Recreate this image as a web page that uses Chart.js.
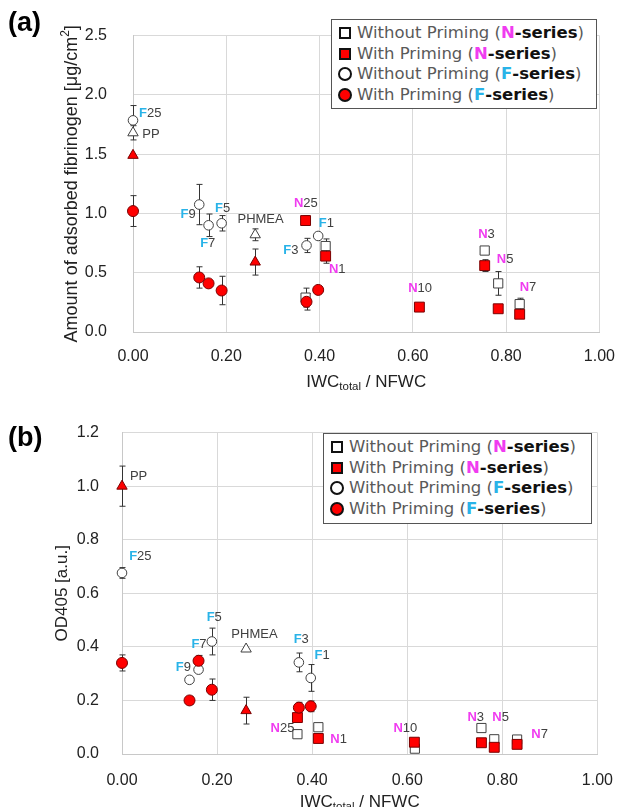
<!DOCTYPE html>
<html>
<head>
<meta charset="utf-8">
<script src="https://cdn.jsdelivr.net/npm/chart.js@4.4.0/dist/chart.umd.min.js"></script>
<style>
  body { margin: 0; background: #fff; }
  #wrap { position: relative; width: 630px; height: 807px; overflow: hidden; }
  canvas { position: absolute; left: 0; }
  .tag { position: absolute; left: 8px; font: bold 27px "Liberation Sans", Arial, sans-serif; color: #000; line-height: 30px; }
  .legend { position: absolute; border: 1.5px solid #555; background: #fff; box-sizing: border-box;
            font: 16.5px "DejaVu Sans", sans-serif; color: #595959; padding: 3px 0 3px 6px; }
  .legend .row { height: 20.6px; line-height: 20.6px; white-space: nowrap; display: flex; align-items: center; }
  .mk { display: inline-block; box-sizing: border-box; border: 2px solid #111; width: 12px; height: 12px; margin: 0 6px 0 1px; }
  .mk.fill { background: #ff0000; }
  .mk.circ { border-radius: 50%; width: 14px; height: 14px; margin: 0 5px 0 0; }
  .n { color: #f03cf0; font-weight: bold; }
  .f { color: #29b3e8; font-weight: bold; }
  .s { color: #111; font-weight: bold; }
</style>
</head>
<body>
<div id="wrap">
  <canvas id="chartA" width="630" height="400" style="top:0"></canvas>
  <canvas id="chartB" width="630" height="407" style="top:400px"></canvas>
  <div class="tag" style="top:7px">(a)</div>
  <div class="tag" style="top:422px">(b)</div>
  <div class="legend" style="left:331px; top:19px; width:266px; height:90px">
    <div class="row"><span class="mk"></span>Without Priming (<span class="n">N</span><span class="s">-series</span>)</div>
    <div class="row"><span class="mk fill"></span>With Priming (<span class="n">N</span><span class="s">-series</span>)</div>
    <div class="row"><span class="mk circ"></span>Without Priming (<span class="f">F</span><span class="s">-series</span>)</div>
    <div class="row"><span class="mk circ fill"></span>With Priming (<span class="f">F</span><span class="s">-series</span>)</div>
  </div>
  <div class="legend" style="left:323px; top:433px; width:269px; height:91px">
    <div class="row"><span class="mk"></span>Without Priming (<span class="n">N</span><span class="s">-series</span>)</div>
    <div class="row"><span class="mk fill"></span>With Priming (<span class="n">N</span><span class="s">-series</span>)</div>
    <div class="row"><span class="mk circ"></span>Without Priming (<span class="f">F</span><span class="s">-series</span>)</div>
    <div class="row"><span class="mk circ fill"></span>With Priming (<span class="f">F</span><span class="s">-series</span>)</div>
  </div>
</div>
<script>
// ---- panel (a): adsorbed fibrinogen ----
const aNWithoutX = [0.370, 0.413, 0.754, 0.783, 0.829];          // N25 N1 N3 N5 N7
const aNWithoutY = [0.29, 0.725, 0.687, 0.41, 0.235];
const aNWithoutErr = [0.08, 0.06, 0.02, 0.10, 0.05];
const aNWithX = [0.370, 0.413, 0.614, 0.754, 0.783, 0.829];      // N25 N1 N10 N3 N5 N7
const aNWithY = [0.94, 0.64, 0.21, 0.56, 0.196, 0.15];
const aNWithErr = [0.04, 0.06, 0, 0.05, 0, 0];
const aFWithoutX = [0.0, 0.142, 0.162, 0.190, 0.372, 0.397];     // F25 F9 F7 F5 F3 F1
const aFWithoutY = [1.785, 1.075, 0.90, 0.917, 0.73, 0.81];
const aFWithoutErr = [0.125, 0.17, 0.095, 0.065, 0.06, 0];
const aFWithX = [0.0, 0.142, 0.162, 0.190, 0.372, 0.397];
const aFWithY = [1.02, 0.46, 0.41, 0.35, 0.255, 0.355];
const aFWithErr = [0.13, 0.09, 0, 0.12, 0.07, 0];
const aRefWithoutX = [0.0, 0.262];                                // PP PHMEA
const aRefWithoutY = [1.68, 0.82];
const aRefWithoutErr = [0.06, 0.05];
const aRefWithX = [0.0, 0.262];
const aRefWithY = [1.49, 0.59];
const aRefWithErr = [0, 0.11];
const aLabelText = ['F25', 'PP', 'F9', 'F7', 'F5', 'PHMEA', 'N25', 'F1', 'F3', 'N1', 'N10', 'N3', 'N5', 'N7'];
const aLabelX = [0.013, 0.02, 0.102, 0.144, 0.176, 0.224, 0.345, 0.3985, 0.322, 0.42, 0.59, 0.74, 0.78, 0.829];
const aLabelY = [1.843, 1.664, 0.99, 0.746, 1.044, 0.953, 1.088, 0.915, 0.692, 0.525, 0.37, 0.824, 0.615, 0.377];

// ---- panel (b): OD405 ----
const bNWithoutX = [0.369, 0.413, 0.616, 0.756, 0.783, 0.831];   // N25 N1 N10 N3 N5 N7
const bNWithoutY = [0.074, 0.10, 0.02, 0.097, 0.055, 0.054];
const bNWithoutErr = [0, 0, 0, 0, 0, 0];
const bNWithX = [0.369, 0.413, 0.615, 0.756, 0.783, 0.831];
const bNWithY = [0.136, 0.058, 0.044, 0.042, 0.025, 0.036];
const bNWithErr = [0, 0, 0, 0, 0, 0];
const bFWithoutX = [0.0, 0.142, 0.161, 0.189, 0.372, 0.397];     // F25 F9 F7 F5 F3 F1
const bFWithoutY = [0.676, 0.277, 0.315, 0.42, 0.342, 0.284];
const bFWithoutErr = [0.02, 0, 0, 0.05, 0.035, 0.05];
const bFWithX = [0.0, 0.142, 0.161, 0.189, 0.372, 0.397];
const bFWithY = [0.34, 0.20, 0.348, 0.24, 0.173, 0.178];
const bFWithErr = [0.03, 0.015, 0.02, 0.04, 0.02, 0.02];
const bRefWithoutX = [0.261];                                     // PHMEA
const bRefWithoutY = [0.392];
const bRefWithoutErr = [0];
const bRefWithX = [0.0, 0.261];                                   // PP PHMEA
const bRefWithY = [1.0, 0.162];
const bRefWithErr = [0.075, 0.05];
const bLabelText = ['PP', 'F25', 'F5', 'PHMEA', 'F7', 'F9', 'F3', 'F1', 'N25', 'N1', 'N10', 'N3', 'N5', 'N7'];
const bLabelX = [0.0167, 0.015, 0.178, 0.230, 0.146, 0.113, 0.361, 0.405, 0.3125, 0.438, 0.571, 0.7265, 0.779, 0.861];
const bLabelY = [1.036, 0.738, 0.511, 0.446, 0.409, 0.3235, 0.429, 0.368, 0.0944, 0.054, 0.094, 0.137, 0.137, 0.072];

const xTicks = [0, 0.2, 0.4, 0.6, 0.8, 1.0];

const FONT = '"Liberation Sans", Arial, sans-serif';
const GRAY = '#404040';

function pts(xs, ys) {
    return xs.map((x, i) => ({ x: x, y: ys[i] }));
}

// vertical error bars, drawn under the markers
const errorBars = {
    id: 'errorBars',
    beforeDatasetsDraw(chart) {
        const ctx = chart.ctx;
        const ys = chart.scales.y;
        ctx.save();
        ctx.strokeStyle = '#333';
        ctx.lineWidth = 1;
        chart.data.datasets.forEach((ds, di) => {
            if (!ds.errs) return;
            const meta = chart.getDatasetMeta(di);
            meta.data.forEach((el, i) => {
                const e = ds.errs[i];
                if (!e) return;
                const v = ds.data[i].y;
                const x = Math.round(el.x) + 0.5;
                const top = ys.getPixelForValue(v + e);
                const bot = ys.getPixelForValue(v - e);
                ctx.beginPath();
                ctx.moveTo(x, top); ctx.lineTo(x, bot);
                ctx.moveTo(x - 3, top); ctx.lineTo(x + 3, top);
                ctx.moveTo(x - 3, bot); ctx.lineTo(x + 3, bot);
                ctx.stroke();
            });
        });
        ctx.restore();
    }
};

// sample names next to points
const pointNames = {
    id: 'pointNames',
    afterDatasetsDraw(chart, args, opts) {
        const ctx = chart.ctx;
        const xs = chart.scales.x, ys = chart.scales.y;
        ctx.save();
        ctx.font = '13px ' + FONT;
        ctx.textBaseline = 'middle';
        ctx.textAlign = 'left';
        opts.text.forEach((t, i) => {
            let px = xs.getPixelForValue(opts.x[i]);
            const py = ys.getPixelForValue(opts.y[i]);
            if (/^[NF]\d/.test(t)) {
                ctx.fillStyle = t[0] === 'N' ? '#f03cf0' : '#29b3e8';
                ctx.font = 'bold 13px ' + FONT;
                ctx.fillText(t[0], px, py);
                px += ctx.measureText(t[0]).width;
                ctx.font = '13px ' + FONT;
                ctx.fillStyle = GRAY;
                ctx.fillText(t.slice(1), px, py);
            } else {
                ctx.fillStyle = GRAY;
                ctx.fillText(t, px, py);
            }
        });
        ctx.restore();
    }
};

// axis titles with sub/superscripts
function drawParts(ctx, parts, cx, cy, rotate) {
    ctx.save();
    ctx.translate(cx, cy);
    if (rotate) ctx.rotate(-Math.PI / 2);
    ctx.textBaseline = 'middle';
    ctx.textAlign = 'left';
    ctx.fillStyle = '#222';
    let total = 0;
    parts.forEach(p => { ctx.font = p.s + 'px ' + FONT; total += ctx.measureText(p.t).width; });
    let x = -total / 2;
    parts.forEach(p => {
        ctx.font = p.s + 'px ' + FONT;
        ctx.fillText(p.t, x, p.dy);
        x += ctx.measureText(p.t).width;
    });
    ctx.restore();
}

const axisTitles = {
    id: 'axisTitles',
    afterDraw(chart, args, opts) {
        const a = chart.chartArea;
        drawParts(chart.ctx, opts.xParts, (a.left + a.right) / 2, opts.xTitleY, false);
        drawParts(chart.ctx, opts.yParts, opts.yTitleX, (a.top + a.bottom) / 2, true);
    }
};

function makeChart(id, p) {
    const datasets = [
        { label: 'With Priming (F-series)', data: pts(p.fWithX, p.fWithY), errs: p.fWithErr,
          pointStyle: 'circle', pointRadius: 5.5, backgroundColor: '#ff0000', borderColor: '#7a0000', borderWidth: 1 },
        { label: 'With Priming (N-series)', data: pts(p.nWithX, p.nWithY), errs: p.nWithErr,
          pointStyle: 'rect', pointRadius: 7, backgroundColor: '#ff0000', borderColor: '#7a0000', borderWidth: 1 },
        { label: 'With Priming (ref)', data: pts(p.refWithX, p.refWithY), errs: p.refWithErr,
          pointStyle: 'triangle', pointRadius: 6, backgroundColor: '#ff0000', borderColor: '#7a0000', borderWidth: 1 },
        { label: 'Without Priming (F-series)', data: pts(p.fWithoutX, p.fWithoutY), errs: p.fWithoutErr,
          pointStyle: 'circle', pointRadius: 4.8, backgroundColor: '#fff', borderColor: GRAY, borderWidth: 1 },
        { label: 'Without Priming (N-series)', data: pts(p.nWithoutX, p.nWithoutY), errs: p.nWithoutErr,
          pointStyle: 'rect', pointRadius: 6.5, backgroundColor: '#fff', borderColor: GRAY, borderWidth: 1 },
        { label: 'Without Priming (ref)', data: pts(p.refWithoutX, p.refWithoutY), errs: p.refWithoutErr,
          pointStyle: 'triangle', pointRadius: 6, backgroundColor: '#fff', borderColor: GRAY, borderWidth: 1 },
    ];
    datasets.forEach(ds => { ds.clip = false; });
    return new Chart(document.getElementById(id), {
        type: 'scatter',
        data: { datasets: datasets },
        options: {
            responsive: false,
            animation: false,
            devicePixelRatio: 1,
            layout: { padding: { left: 0, right: p.padRight, top: p.padTop, bottom: 0 } },
            plugins: {
                legend: { display: false },
                tooltip: { enabled: false },
                pointNames: { text: p.labelText, x: p.labelX, y: p.labelY },
                axisTitles: { xParts: p.xParts, yParts: p.yParts, xTitleY: p.xTitleY, yTitleX: p.yTitleX },
            },
            scales: {
                x: {
                    type: 'linear', min: 0, max: 1,
                    afterBuildTicks: s => { s.ticks = xTicks.map(v => ({ value: v })); },
                    afterFit: s => { s.height = p.xHeight; },
                    ticks: { font: { size: 16, family: FONT }, color: '#222', padding: p.xPad,
                             callback: v => v.toFixed(2) },
                    grid: { color: '#d9d9d9', drawTicks: false },
                    border: { color: '#c8c8c8' },
                },
                y: {
                    type: 'linear', min: 0, max: p.yMax,
                    afterBuildTicks: s => { s.ticks = p.yTicks.map(v => ({ value: v })); },
                    afterFit: s => { s.width = p.yWidth; },
                    ticks: { font: { size: 16, family: FONT }, color: '#222', padding: p.yPad,
                             callback: v => v.toFixed(1) },
                    grid: { color: '#d9d9d9', drawTicks: false },
                    border: { color: '#c8c8c8' },
                },
            },
        },
        plugins: [errorBars, pointNames, axisTitles],
    });
}

const xTitle = [{ t: 'IWC', s: 17, dy: 0 }, { t: 'total', s: 11.5, dy: 5 }, { t: ' / NFWC', s: 17, dy: 0 }];

makeChart('chartA', {
    nWithoutX: aNWithoutX, nWithoutY: aNWithoutY, nWithoutErr: aNWithoutErr,
    nWithX: aNWithX, nWithY: aNWithY, nWithErr: aNWithErr,
    fWithoutX: aFWithoutX, fWithoutY: aFWithoutY, fWithoutErr: aFWithoutErr,
    fWithX: aFWithX, fWithY: aFWithY, fWithErr: aFWithErr,
    refWithoutX: aRefWithoutX, refWithoutY: aRefWithoutY, refWithoutErr: aRefWithoutErr,
    refWithX: aRefWithX, refWithY: aRefWithY, refWithErr: aRefWithErr,
    labelText: aLabelText, labelX: aLabelX, labelY: aLabelY,
    yMax: 2.5, yTicks: [0, 0.5, 1.0, 1.5, 2.0, 2.5],
    padRight: 28, padTop: 10, yWidth: 133, xHeight: 68, yPad: 26, xPad: 15,
    xParts: xTitle, xTitleY: 382,
    yParts: [{ t: 'Amount of adsorbed fibrinogen [\u03bcg/cm', s: 18, dy: 0 }, { t: '2', s: 12, dy: -6 }, { t: ']', s: 18, dy: 0 }],
    yTitleX: 72,
});

makeChart('chartB', {
    nWithoutX: bNWithoutX, nWithoutY: bNWithoutY, nWithoutErr: bNWithoutErr,
    nWithX: bNWithX, nWithY: bNWithY, nWithErr: bNWithErr,
    fWithoutX: bFWithoutX, fWithoutY: bFWithoutY, fWithoutErr: bFWithoutErr,
    fWithX: bFWithX, fWithY: bFWithY, fWithErr: bFWithErr,
    refWithoutX: bRefWithoutX, refWithoutY: bRefWithoutY, refWithoutErr: bRefWithoutErr,
    refWithX: bRefWithX, refWithY: bRefWithY, refWithErr: bRefWithErr,
    labelText: bLabelText, labelX: bLabelX, labelY: bLabelY,
    yMax: 1.2, yTicks: [0, 0.2, 0.4, 0.6, 0.8, 1.0, 1.2],
    padRight: 29, padTop: 27, yWidth: 122, xHeight: 53, yPad: 23, xPad: 17,
    xParts: xTitle, xTitleY: 402,
    yParts: [{ t: 'OD405 [a.u.]', s: 17, dy: 0 }],
    yTitleX: 62,
});
</script>
</body>
</html>
